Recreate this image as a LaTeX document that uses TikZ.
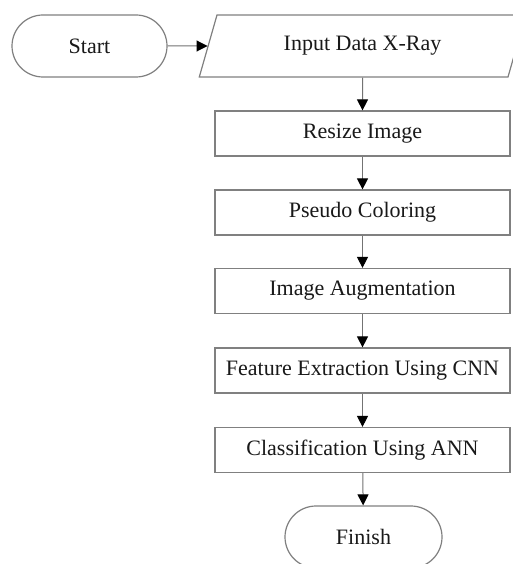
\documentclass[tikz,border=0pt]{standalone}
\usepackage{fontspec}
\setmainfont{Liberation Serif}
\usetikzlibrary{shapes.geometric,shapes.misc,arrows.meta}
\tikzset{
  stepbox/.style={draw=black!50, line width=1.2pt, minimum width=295pt, minimum height=45pt, inner sep=0pt},
  term/.style={rounded rectangle, draw=black!50, line width=1.2pt, minimum width=155pt, minimum height=62pt, inner sep=0pt},
  iobox/.style={trapezium, trapezium left angle=63.4, trapezium right angle=116.6, trapezium stretches=true,
    draw=black!50, line width=1.2pt, minimum width=327pt, minimum height=62pt, inner sep=0pt},
  flow/.style={draw=black!55, line width=1pt, -{Triangle[length=11pt,width=11pt,black]}}
}
\begin{document}
\begin{tikzpicture}[x=1pt, y=-1pt, font=\fontsize{22}{26}\selectfont, text=black!90]
  % page frame
  \fill[white] (0,0) rectangle (513,564);
  \useasboundingbox (0,0) rectangle (513,564);
  % terminals and input
  \node[term] (start) at (89.5,46) {Start};
  \node[iobox] (input) at (362.5,46) {Input Data X-Ray};
  % processing steps
  \node[stepbox] (resize) at (362.5,133.5) {Resize Image};
  \node[stepbox] (pseudo) at (362.5,212.5) {Pseudo Coloring};
  \node[stepbox] (augment) at (362.5,291) {Image Augmentation};
  \node[stepbox] (feature) at (362.5,370.5) {Feature Extraction Using CNN};
  \node[stepbox] (classify) at (362.5,450) {Classification Using ANN};
  \node[term, minimum width=157pt] (finish) at (363.5,537) {Finish};
  % connectors
  \draw[flow] (start) -- (input);
  \foreach \a/\b in {input/resize, resize/pseudo, pseudo/augment, augment/feature, feature/classify, classify/finish} {
    \draw[flow] (\a) -- (\b);
  }
\end{tikzpicture}
\end{document}
